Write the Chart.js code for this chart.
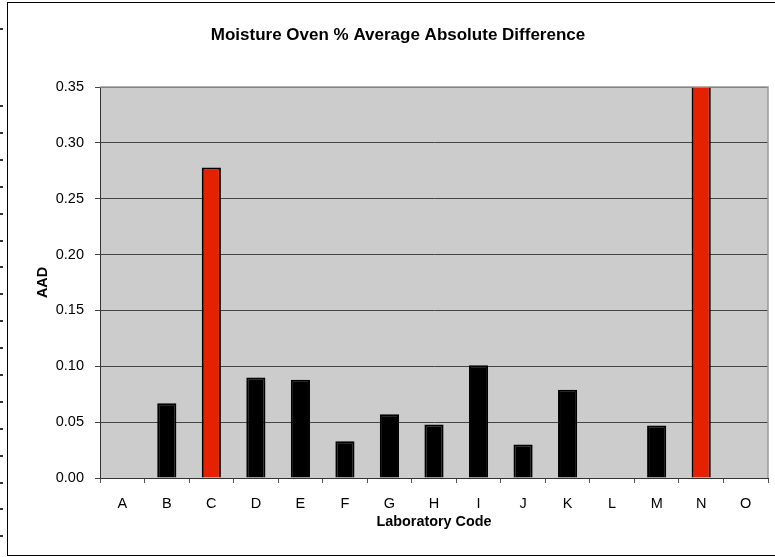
<!DOCTYPE html>
<html>
<head>
<meta charset="utf-8">
<script src="https://cdn.jsdelivr.net/npm/chart.js@4.4.0/dist/chart.umd.min.js"></script>
<style>
    html, body { margin: 0; padding: 0; background: #ffffff; }
    #wrap { width: 775px; height: 557px; position: relative; }
</style>
</head>
<body>
<div id="wrap"><canvas id="grafico"></canvas></div>
<script>
// dados
const laboratorios = ['A', 'B', 'C', 'D', 'E', 'F', 'G', 'H', 'I', 'J', 'K', 'L', 'M', 'N', 'O'];
const aad = [null, 0.067, 0.278, 0.090, 0.088, 0.033, 0.057, 0.048, 0.101, 0.030, 0.079, null, 0.047, 0.40, null];
const destacados = ['C', 'N'];
const ticksY = [0, 0.05, 0.10, 0.15, 0.20, 0.25, 0.30, 0.35];

const cores = laboratorios.map(l => destacados.includes(l) ? '#E42200' : '#000000');

// fundo cinza da área do gráfico, borda externa e contorno
const moldura = {
    id: 'moldura',
    beforeDraw(chart) {
        const { ctx, chartArea: a } = chart;
        ctx.save();
        ctx.fillStyle = '#CCCCCC';
        ctx.fillRect(a.left, a.top, a.right - a.left, a.bottom - a.top);
        ctx.restore();
    },
    afterDraw(chart) {
        const { ctx, chartArea: a } = chart;
        ctx.save();
        ctx.strokeStyle = '#999999';
        ctx.lineWidth = 1.5;
        ctx.beginPath();
        ctx.moveTo(a.left, a.top);
        ctx.lineTo(a.right, a.top);
        ctx.lineTo(a.right, a.bottom);
        ctx.stroke();
        // borda externa
        ctx.strokeStyle = '#000000';
        ctx.lineWidth = 1;
        ctx.strokeRect(7.5, 2.5, 800, 553);
        // pequenos traços na margem esquerda
        ctx.fillStyle = '#333333';
        ctx.fillRect(0, 28, 3, 2);
        for (let y = 105; y < 550; y += 26.9) {
            ctx.fillRect(0, Math.round(y), 3, 2);
        }
        ctx.restore();
    }
};

const fonte = 'Liberation Sans, Arial, Helvetica';

new Chart(document.getElementById('grafico'), {
    type: 'bar',
    data: {
        labels: laboratorios,
        datasets: [{
            label: 'AAD',
            data: aad,
            backgroundColor: cores,
            borderColor: '#000000',
            borderWidth: 2,
            categoryPercentage: 1,
            barPercentage: 0.43
        }]
    },
    options: {
        responsive: true,
        maintainAspectRatio: false,
        animation: false,
        layout: { padding: { left: 28, right: 7, top: 0, bottom: 0 } },
        plugins: {
            legend: { display: false },
            tooltip: { enabled: false },
            title: {
                display: true,
                text: 'Moisture Oven % Average Absolute Difference',
                color: '#000000',
                font: { family: fonte, size: 17, weight: 'bold' },
                padding: { top: 24.8, bottom: 41.8 }
            }
        },
        scales: {
            x: {
                afterFit: s => { s.height = 79; },
                grid: {
                    display: true,
                    drawOnChartArea: false,
                    drawTicks: true,
                    offset: true,
                    tickLength: 5,
                    color: '#555555'
                },
                border: { display: true, color: '#333333', width: 1 },
                ticks: {
                    color: '#000000',
                    padding: 12,
                    font: { family: fonte, size: 14.5 }
                },
                title: {
                    display: true,
                    text: 'Laboratory Code',
                    color: '#000000',
                    font: { family: fonte, size: 14.4, weight: 'bold' },
                    padding: { top: 0, bottom: 26.4 }
                }
            },
            y: {
                min: 0,
                max: 0.35,
                afterFit: s => { s.width = 72; },
                afterBuildTicks: s => { s.ticks = ticksY.map(v => ({ value: v })); },
                grid: {
                    color: '#444444',
                    lineWidth: 1,
                    tickLength: 5,
                    drawTicks: true
                },
                border: { display: true, color: '#333333', width: 1 },
                ticks: {
                    color: '#000000',
                    padding: 11,
                    font: { family: fonte, size: 14.5 },
                    callback: v => v.toFixed(2)
                },
                title: {
                    display: true,
                    text: 'AAD',
                    color: '#000000',
                    font: { family: fonte, size: 14.4, weight: 'bold' },
                    padding: { top: 6.4, bottom: 0 }
                }
            }
        }
    },
    plugins: [moldura]
});
</script>
</body>
</html>
